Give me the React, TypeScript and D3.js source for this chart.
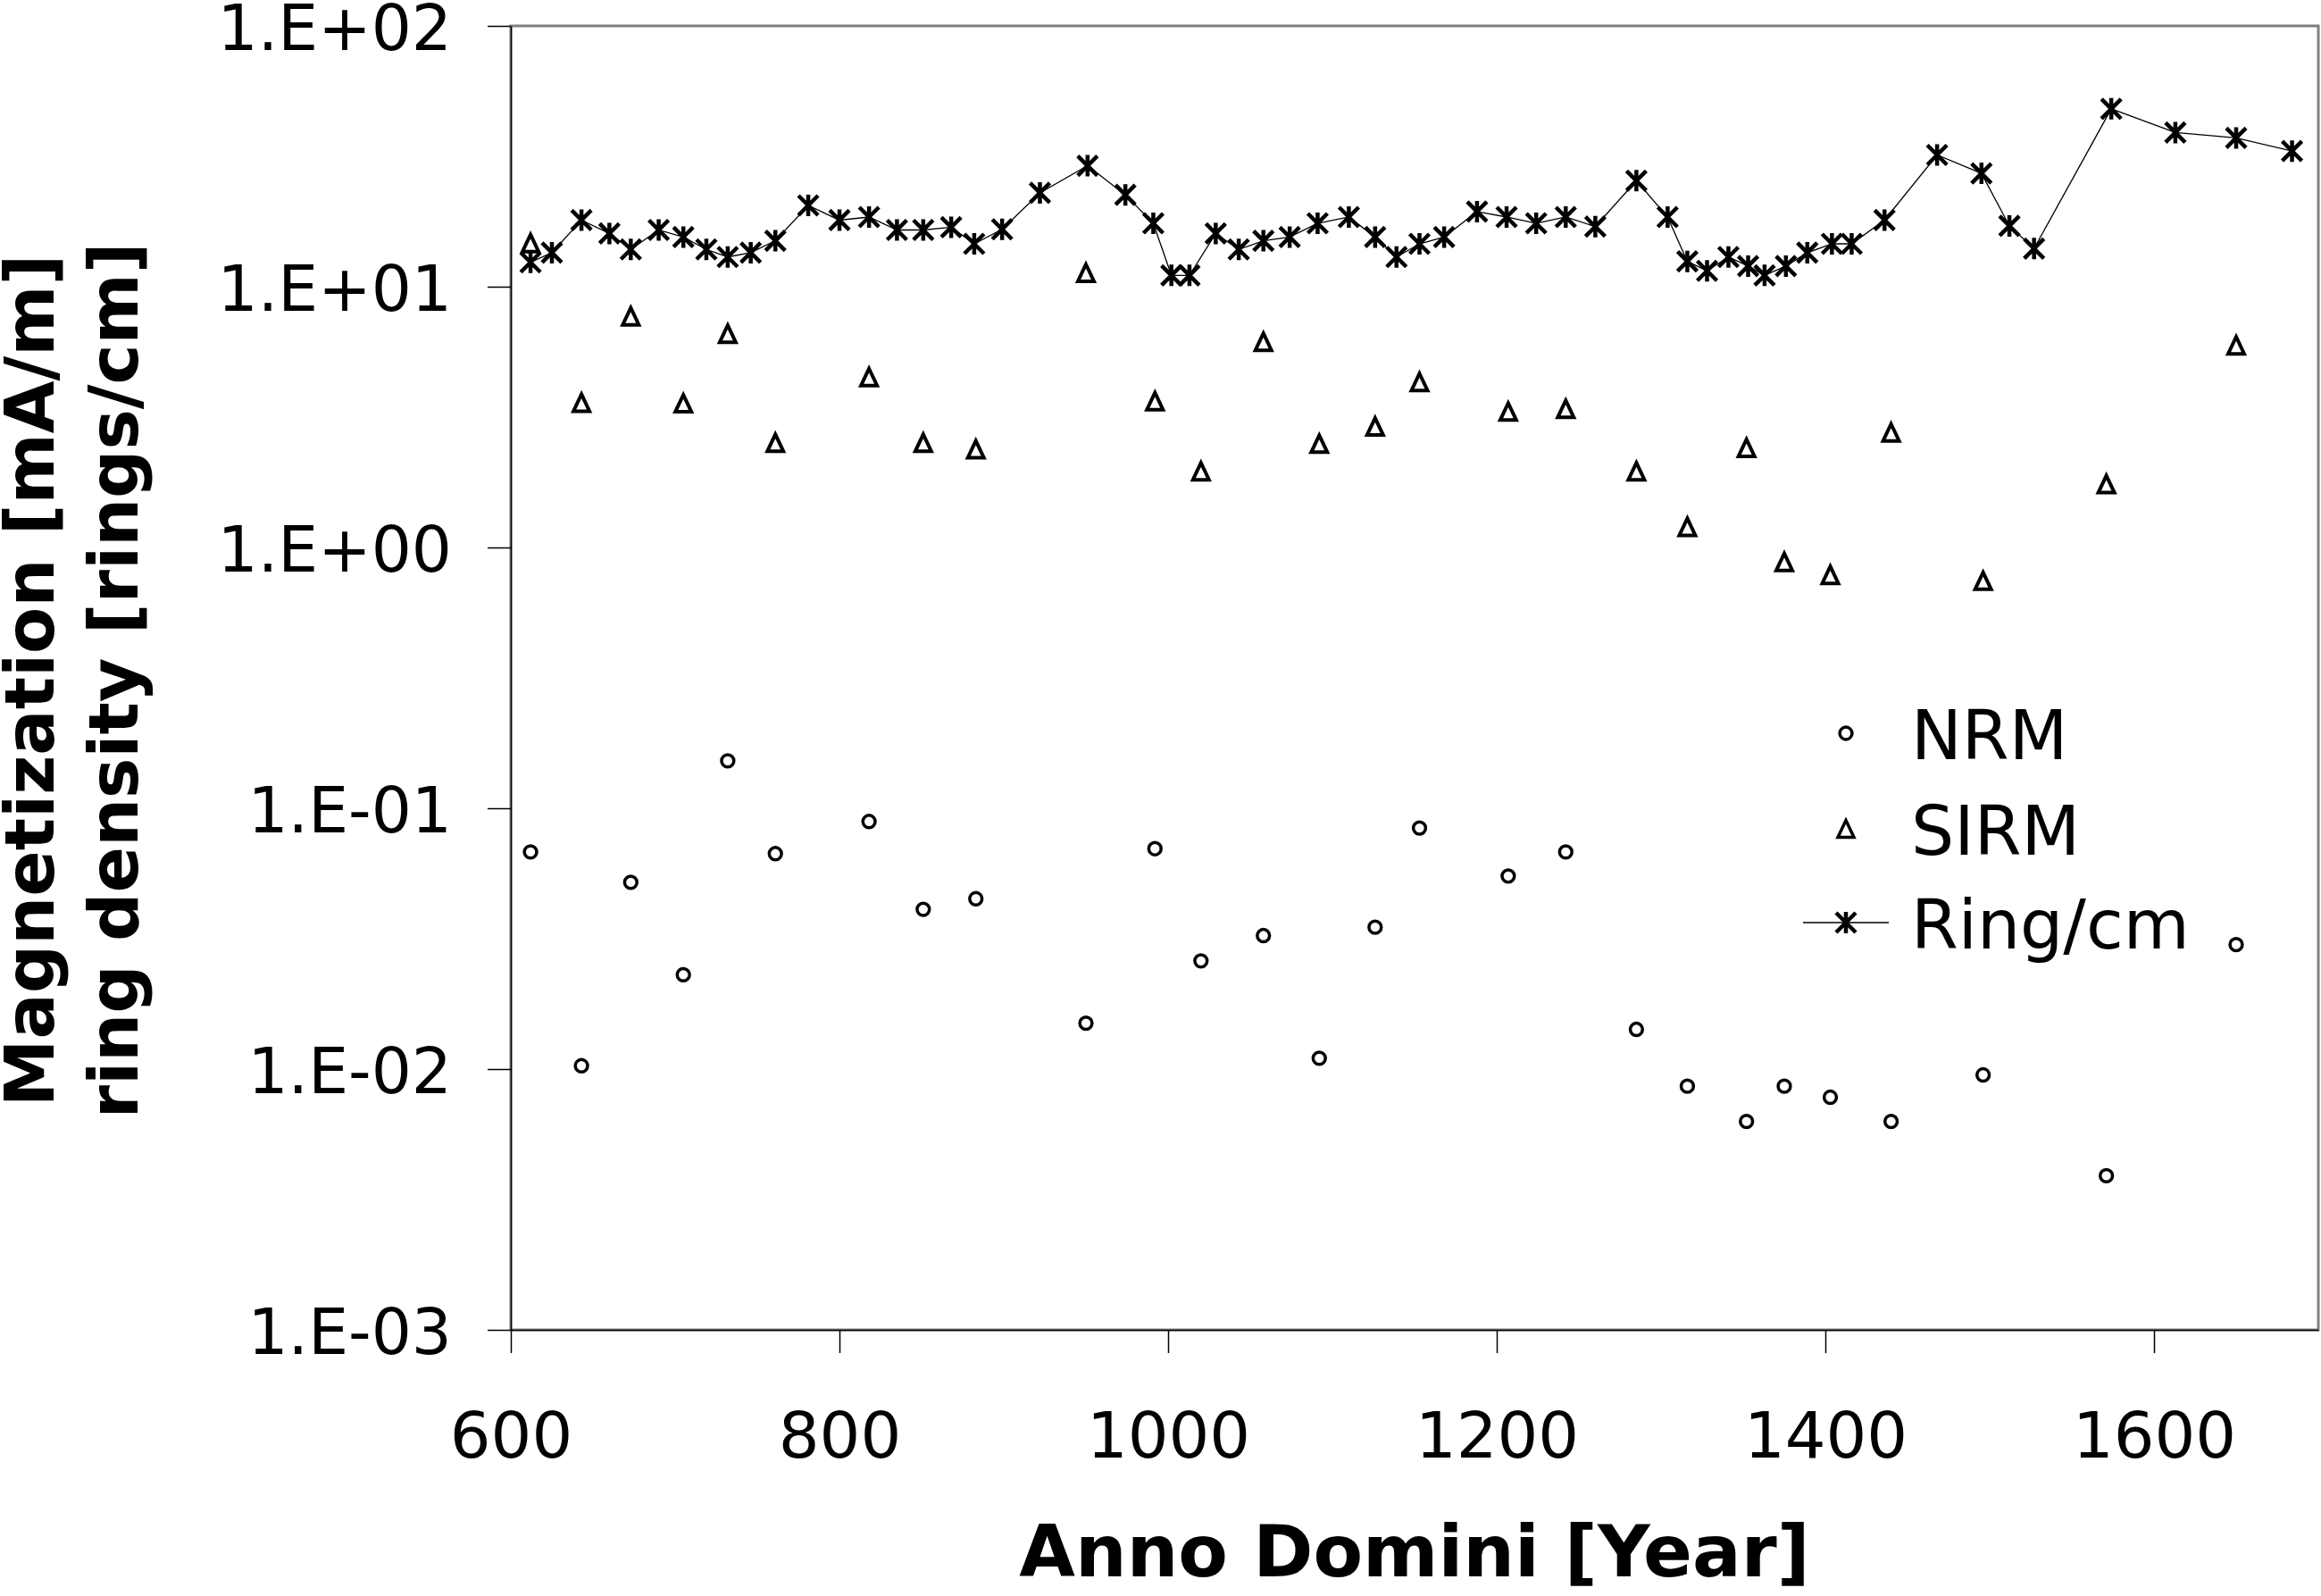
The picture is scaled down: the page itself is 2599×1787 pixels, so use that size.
import React, { useEffect, useRef } from 'react';
import * as d3 from 'd3';

// ring density, one point per sampled year
const ringYears = [612, 625, 643, 660, 673, 690, 705, 719, 732, 746,
    761, 781, 800, 818, 835, 851, 868, 882, 899, 922,
    951, 974, 991, 1002, 1013, 1029, 1043, 1058, 1074, 1091,
    1110, 1126, 1139, 1153, 1168, 1188, 1206, 1224, 1242, 1260,
    1285, 1304, 1316, 1328, 1341, 1353, 1363, 1376, 1389, 1404,
    1416, 1436, 1468, 1495, 1512, 1527, 1574, 1613, 1650, 1684];
const ringValues = [12.4, 13.5, 18.0, 16.0, 13.9, 16.5, 15.5, 13.9, 13.0, 13.5,
    15.0, 20.5, 18.0, 18.5, 16.5, 16.5, 16.9, 14.6, 16.6, 22.9,
    29.1, 22.5, 17.5, 11.05, 11.05, 16.0, 13.9, 15.0, 15.5, 17.5,
    18.5, 15.5, 13.0, 14.6, 15.5, 19.4, 18.5, 17.5, 18.5, 17.0,
    25.5, 18.5, 12.5, 11.5, 13.0, 12.0, 11.05, 12.0, 13.5, 14.6,
    14.6, 18.0, 32.0, 27.2, 17.1, 14.0, 48.1, 39.0, 37.2, 33.1];

// magnetization samples
const sampleYears = [612, 643, 673, 705, 732, 761, 818, 851, 883, 950,
    992, 1020, 1058, 1092, 1126, 1153, 1207, 1242, 1285, 1316,
    1352, 1375, 1403, 1440, 1496, 1571, 1650];
const nrmValues = [0.068, 0.0103, 0.052, 0.023, 0.152, 0.067, 0.089, 0.041, 0.045, 0.015,
    0.070, 0.026, 0.0325, 0.011, 0.035, 0.084, 0.055, 0.068, 0.0142, 0.0086,
    0.0063, 0.0086, 0.0078, 0.0063, 0.0095, 0.0039, 0.030];
const sirmValues = [14.7, 3.59, 7.7, 3.57, 6.6, 2.52, 4.5, 2.52, 2.38, 11.3,
    3.64, 1.96, 6.15, 2.5, 2.91, 4.31, 3.32, 3.4, 1.96, 1.2,
    2.41, 0.88, 0.785, 2.76, 0.745, 1.75, 5.96];

const xTicks = [600, 800, 1000, 1200, 1400, 1600];
const yTicks = [1e-3, 1e-2, 1e-1, 1e0, 1e1, 1e2];
const legendLabels = ['NRM', 'SIRM', 'Ring/cm'];

const FONT = '"DejaVu Sans", Verdana, sans-serif';

const circlePath = d3.symbol(d3.symbolCircle, 150)() as string;
const trianglePath = 'M0,-9.5L9,9.5L-9,9.5Z';
const starPath = 'M0,-12V12M-11,-11L11,11M11,-11L-11,11';

export default function App() {
    const ref = useRef<SVGSVGElement>(null);

    useEffect(() => {
        document.body.style.margin = '0';
        const svg = d3.select(ref.current);
        svg.selectAll('*').remove();

        const left = 572, right = 2596, top = 29, bottom = 1489;

        const x = d3.scaleLinear().domain([600, 1700]).range([left, right]);
        const y = d3.scaleLog().domain([1e-3, 1e2]).range([bottom, top]);

        const fmt = (d: number) => {
            const e = Math.round(Math.log10(d));
            return '1.E' + (e >= 0 ? '+' : '-') + String(Math.abs(e)).padStart(2, '0');
        };

        // plot area border
        svg.append('rect')
            .attr('x', left).attr('y', top)
            .attr('width', right - left).attr('height', bottom - top)
            .attr('fill', 'none').attr('stroke', '#808080').attr('stroke-width', 3);

        // Y axis
        const gy = svg.append('g')
            .attr('transform', `translate(${left},0)`)
            .call(d3.axisLeft(y).tickValues(yTicks).tickFormat(fmt as any)
                .tickSize(26).tickSizeOuter(0).tickPadding(40));
        gy.select('.domain').attr('stroke', '#000').attr('stroke-width', 1.5);
        gy.selectAll('.tick line').attr('stroke-width', 1.5);
        gy.selectAll('text')
            .attr('font-family', FONT).attr('font-size', 71).attr('fill', '#000')
            .attr('dy', '0.38em');

        // X axis
        const gx = svg.append('g')
            .attr('transform', `translate(0,${bottom})`)
            .call(d3.axisBottom(x).tickValues(xTicks).tickFormat(d3.format('d') as any)
                .tickSize(26).tickSizeOuter(0).tickPadding(66));
        gx.select('.domain').attr('stroke', '#000').attr('stroke-width', 1.5);
        gx.selectAll('.tick line').attr('stroke-width', 1.5);
        gx.selectAll('text')
            .attr('font-family', FONT).attr('font-size', 72).attr('fill', '#000');

        // axis titles
        svg.append('text')
            .attr('x', (left + right) / 2).attr('y', 1765)
            .attr('text-anchor', 'middle')
            .attr('font-family', FONT).attr('font-weight', 'bold').attr('font-size', 81)
            .text('Anno Domini [Year]');
        [['Magnetization [mA/m]', 60], ['ring density [rings/cm]', 154]].forEach(([t, bx]) => {
            svg.append('text')
                .attr('transform', `translate(${bx},762) rotate(-90)`)
                .attr('text-anchor', 'middle')
                .attr('font-family', FONT).attr('font-weight', 'bold').attr('font-size', 76)
                .text(t as string);
        });

        // NRM
        svg.append('g').selectAll('path')
            .data(sampleYears.map((yr, i) => [yr, nrmValues[i]]))
            .enter().append('path')
            .attr('d', circlePath)
            .attr('transform', d => `translate(${x(d[0])},${y(d[1])})`)
            .attr('fill', '#fff').attr('stroke', '#000').attr('stroke-width', 3.5);

        // SIRM
        svg.append('g').selectAll('path')
            .data(sampleYears.map((yr, i) => [yr, sirmValues[i]]))
            .enter().append('path')
            .attr('d', trianglePath)
            .attr('transform', d => `translate(${x(d[0])},${y(d[1])})`)
            .attr('fill', '#fff').attr('stroke', '#000').attr('stroke-width', 4)
            .attr('stroke-linejoin', 'miter');

        // Ring/cm
        const ringData = ringYears.map((yr, i) => [yr, ringValues[i]]);
        svg.append('path')
            .datum(ringData)
            .attr('d', d3.line<number[]>().x(d => x(d[0])).y(d => y(d[1])) as any)
            .attr('fill', 'none').attr('stroke', '#000').attr('stroke-width', 1.3);
        svg.append('g').selectAll('path')
            .data(ringData)
            .enter().append('path')
            .attr('d', starPath)
            .attr('transform', d => `translate(${x(d[0])},${y(d[1])})`)
            .attr('fill', 'none').attr('stroke', '#000').attr('stroke-width', 4.5);

        // legend
        const legendY = [821, 928, 1033];
        const legendPaths = [circlePath, trianglePath, starPath];
        legendLabels.forEach((label, i) => {
            const g = svg.append('g');
            if (i === 2) {
                g.append('line')
                    .attr('x1', 2019).attr('x2', 2115)
                    .attr('y1', legendY[i]).attr('y2', legendY[i])
                    .attr('stroke', '#000').attr('stroke-width', 1.3);
            }
            g.append('path')
                .attr('d', legendPaths[i])
                .attr('transform', `translate(2067,${legendY[i]})`)
                .attr('fill', i === 2 ? 'none' : '#fff')
                .attr('stroke', '#000').attr('stroke-width', i === 2 ? 4.5 : 3.5);
            g.append('text')
                .attr('x', 2140).attr('y', legendY[i] + 29)
                .attr('font-family', FONT).attr('font-size', 76)
                .text(label);
        });
    }, []);

    return (
        <svg ref={ref} width={2599} height={1787}
            style={{ display: 'block', background: '#fff' }} />
    );
}
